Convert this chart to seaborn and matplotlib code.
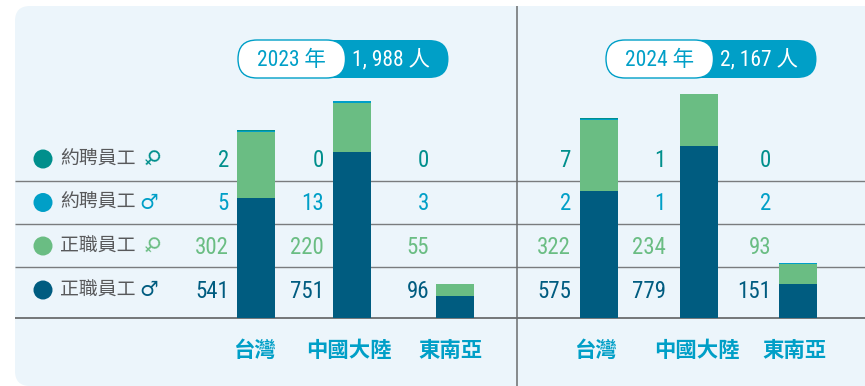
import matplotlib
matplotlib.use("Agg")
import logging
logging.getLogger("matplotlib.font_manager").setLevel(logging.ERROR)
import matplotlib.pyplot as plt
from matplotlib.patches import FancyBboxPatch, Circle
import pandas as pd
import seaborn as sns

regions = ["台灣", "中國大陸", "東南亞"]
years = ["2023 年", "2024 年"]
totals = ["1, 988 人", "2, 167 人"]
series_names = ["約聘員工", "約聘員工", "正職員工", "正職員工"]
series_signs = ["♀", "♂", "♀", "♂"]

contract_f = [2, 0, 0, 7, 1, 0]
contract_m = [5, 13, 3, 2, 1, 2]
regular_f = [302, 220, 55, 322, 234, 93]
regular_m = [541, 751, 96, 575, 779, 151]

C_TEAL, C_BLUE, C_GREEN, C_NAVY = "#008F8C", "#009FC7", "#6ABD83", "#005C80"
PANEL = "#ECF5FB"
LINE = "#7A7C7E"
GRAY = "#58595B"

sns.set_theme(style="white")
NARROW = ["Roboto Condensed", "Archivo Narrow", "Liberation Sans Narrow", "Noto Sans CJK TC", "DejaVu Sans"]
CJK = ["Noto Sans CJK TC", "DejaVu Sans"]
plt.rcParams["font.family"] = NARROW

W, H = 865, 386
fig = plt.figure(figsize=(W / 100, H / 100), dpi=100, facecolor="white")

# pixel-space layer for panel, rules and text
deco = fig.add_axes([0, 0, 1, 1], zorder=1)
deco.set_xlim(0, W)
deco.set_ylim(H, 0)
deco.axis("off")

deco.add_patch(FancyBboxPatch((15, 6), 920, 380, boxstyle="round,pad=0,rounding_size=15",
                              fc=PANEL, ec="none", zorder=0))
for y in (181, 224, 267):
    deco.plot([15, W], [y, y], color=LINE, lw=1.0, zorder=1, solid_capstyle="butt")
deco.plot([15, W], [317.5, 317.5], color="#6A6C6E", lw=1.3, zorder=1, solid_capstyle="butt")
deco.plot([516.5, 516.5], [6, H], color="#6A6C6E", lw=1.1, zorder=1, solid_capstyle="butt")

# stacked bars
bars = fig.add_axes([0, 0, 1, 1], zorder=2)
bars.patch.set_alpha(0)
centers = [256, 352, 455, 599, 699, 798]
df = pd.DataFrame({"pos": centers, "rm": regular_m, "rf": regular_f, "cm": contract_m, "cf": contract_f})
BAR_W = 38 / 96
bottom = [0] * len(df)
for col, color in (("rm", C_NAVY), ("rf", C_GREEN), ("cm", C_BLUE), ("cf", C_TEAL)):
    sns.barplot(data=df, x="pos", y=col, native_scale=True, orient="x", width=BAR_W, color=color,
                saturation=1, bottom=bottom, ax=bars, errorbar=None, linewidth=0)
    bottom = [b + v for b, v in zip(bottom, df[col])]
SCALE = 0.2205
bars.set_xlim(0, W)
bars.set_ylim(-(H - 317.5) / SCALE, 317.5 / SCALE)
bars.axis("off")

# legend rows
row_y = [159, 202.5, 246, 290]
row_colors = [C_TEAL, C_BLUE, C_GREEN, C_NAVY]
for name, sign, y, c in zip(series_names, series_signs, row_y, row_colors):
    deco.add_patch(Circle((43, y), 9.5, fc=c, ec="none", zorder=3))
    deco.text(60, y, name, fontsize=13.6, color=GRAY, family=CJK, weight="light",
              ha="left", va="center", zorder=3)
    if sign == "♀":
        deco.text(150.5, y - 0.5, sign, fontsize=15, color=c, family="DejaVu Sans", rotation=-45,
                  rotation_mode="anchor", ha="center", va="center", zorder=3)
    else:
        deco.text(149, y + 0.5, sign, fontsize=15, color=c, family="DejaVu Sans",
                  ha="center", va="center", zorder=3)

# value columns
right_edges = [229, 324, 429, 571, 666, 771]
rows = [contract_f, contract_m, regular_f, regular_m]
for vals, y, c in zip(rows, row_y, row_colors):
    for v, x in zip(vals, right_edges):
        deco.text(x, y + 1.5, str(v), fontsize=16.5, color=c, ha="right", va="center", zorder=3)

# category labels
label_x = [254, 348.5, 450.5, 595.5, 696.5, 794.5]
for name, x in zip(regions * 2, label_x):
    deco.text(x, 350.5, name, fontsize=15.4, color=C_BLUE, family=CJK, weight="bold",
              ha="center", va="center", zorder=3)

# pills
for x0, year, total in zip((238, 606), years, totals):
    deco.add_patch(FancyBboxPatch((x0, 40), 210.5, 38, boxstyle="round,pad=0,rounding_size=19",
                                  fc=C_BLUE, ec="none", zorder=3))
    deco.add_patch(FancyBboxPatch((x0, 40), 107.5, 38, boxstyle="round,pad=0,rounding_size=19",
                                  fc="white", ec=C_BLUE, lw=1.0, zorder=4))
    deco.text(x0 + 53.5, 60, year, fontsize=15.5, color=C_BLUE, ha="center", va="center", zorder=5)
    deco.text(x0 + 153, 60, total, fontsize=15.5, color="white", ha="center", va="center", zorder=5)

fig.savefig("out.png", dpi=100, facecolor="white")
